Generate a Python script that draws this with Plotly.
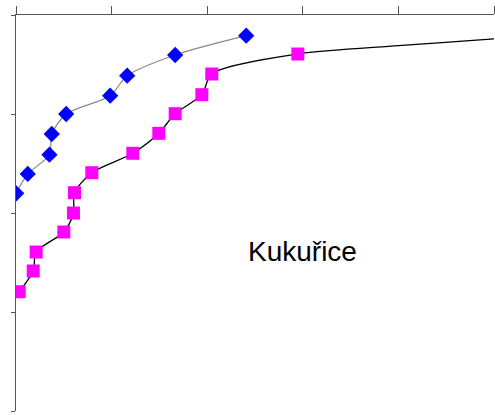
import plotly.graph_objects as go

# Blue series (diamonds)
blue_x = [2.408, 1.665, 1.163, 0.985, 0.525, 0.374, 0.350, 0.123, 0.002]
blue_y = [0.209, 0.404, 0.613, 0.815, 1.000, 1.202, 1.411, 1.606, 1.801]

# Magenta series (squares)
mag_x = [2.948, 2.048, 1.944, 1.665, 1.494, 1.222, 0.793, 0.612, 0.601, 0.500, 0.211, 0.180, 0.033]
mag_y = [0.394, 0.596, 0.805, 0.997, 1.195, 1.397, 1.593, 1.795, 2.000, 2.192, 2.394, 2.586, 2.795]

# Black curve continues beyond the last square
curve_ext_x = [4.0, 5.0, 5.3]
curve_ext_y = [0.31, 0.242, 0.225]

x_ticks = [0, 1, 2, 3, 4, 5]
y_ticks = [0, 1, 2, 3, 4]

fig = go.Figure()

fig.add_trace(go.Scatter(
    x=curve_ext_x[::-1] + mag_x, y=curve_ext_y[::-1] + mag_y,
    mode="lines", line=dict(color="black", width=1.3, shape="spline", smoothing=0.8),
    hoverinfo="skip", showlegend=False))
fig.add_trace(go.Scatter(
    x=mag_x, y=mag_y, mode="markers",
    marker=dict(symbol="square", size=13, color="#ff00ff", line=dict(width=0)),
    showlegend=False))
fig.add_trace(go.Scatter(
    x=blue_x, y=blue_y, mode="lines+markers",
    line=dict(color="#888888", width=1.2, shape="spline", smoothing=0.8),
    marker=dict(symbol="diamond", size=12.5, color="#0000ff", line=dict(width=0)),
    showlegend=False))

fig.add_annotation(x=2.997, y=2.39, text="Kukuřice", showarrow=False,
                   font=dict(family="Liberation Sans, Arial", size=28, color="black"),
                   xanchor="center", yanchor="middle")

fig.update_layout(
    width=495, height=415,
    margin=dict(l=16, r=1, t=15, b=4),
    paper_bgcolor="white", plot_bgcolor="white",
    xaxis=dict(range=[0, 5], side="top", tickvals=x_ticks, showticklabels=False,
               ticks="outside", ticklen=8, tickcolor="#555555", tickwidth=1,
               showline=True, linecolor="#555555", linewidth=1,
               showgrid=False, zeroline=False),
    yaxis=dict(range=[4, 0], tickvals=y_ticks, showticklabels=False,
               ticks="outside", ticklen=4, tickcolor="#555555", tickwidth=1,
               showline=True, linecolor="#555555", linewidth=1,
               showgrid=False, zeroline=False),
)

fig.write_html("out.html")
